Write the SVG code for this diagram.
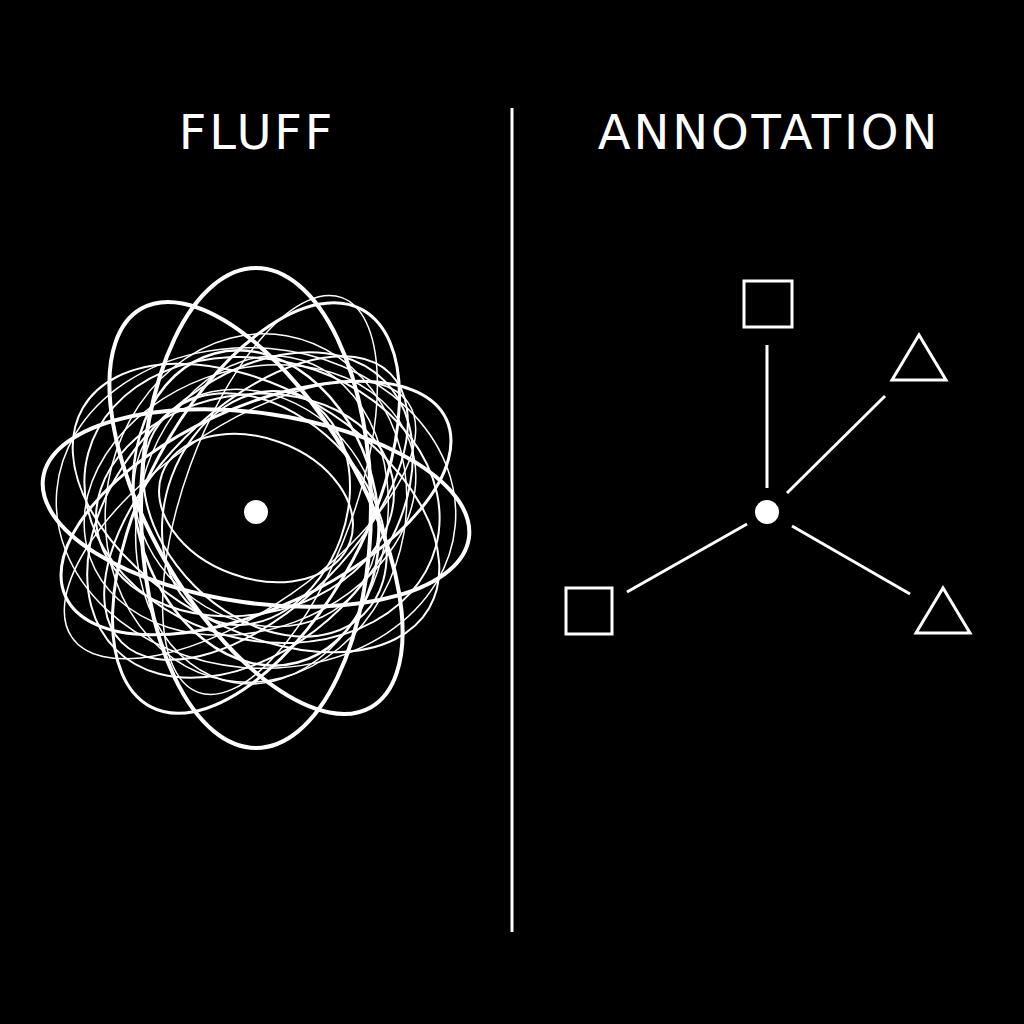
<svg xmlns="http://www.w3.org/2000/svg" width="1024" height="1024" viewBox="0 0 1024 1024">
<style>
.t{font-family:"DejaVu Sans","Liberation Sans",sans-serif;font-size:48px;letter-spacing:2.8px;fill:#fff;text-anchor:middle}
.s{fill:none;stroke:#fff;stroke-width:3}
.f{fill:none;stroke:#fff}
</style>
<rect width="1024" height="1024" fill="#000"/>
<text class="t" x="257" y="149">FLUFF</text>
<text class="t" x="769" y="149">ANNOTATION</text>
<line x1="512" y1="108" x2="512" y2="932" stroke="#fff" stroke-width="3"/>
<g id="fluff" class="f">
<ellipse cx="256" cy="508" rx="215" ry="95" transform="rotate(8 256 508)" stroke-width="4"/>
<ellipse cx="256" cy="508" rx="210" ry="100" transform="rotate(-25 256 508)" stroke-width="3"/>
<ellipse cx="256" cy="508" rx="230" ry="105" transform="rotate(60 256 508)" stroke-width="4"/>
<ellipse cx="256" cy="508" rx="225" ry="110" transform="rotate(-62 256 508)" stroke-width="3"/>
<ellipse cx="256" cy="508" rx="240" ry="115" transform="rotate(90 256 508)" stroke-width="4"/>
<ellipse cx="256" cy="508" rx="200" ry="120" transform="rotate(30 256 508)" stroke-width="2"/>
<ellipse cx="250" cy="515" rx="190" ry="130" transform="rotate(-45 250 515)" stroke-width="2"/>
<ellipse cx="262" cy="500" rx="180" ry="140" transform="rotate(15 262 500)" stroke-width="2"/>
<ellipse cx="256" cy="508" rx="160" ry="120" transform="rotate(75 256 508)" stroke-width="2.5"/>
<ellipse cx="245" cy="505" rx="150" ry="110" transform="rotate(-10 245 505)" stroke-width="2"/>
<ellipse cx="265" cy="515" rx="140" ry="100" transform="rotate(45 265 515)" stroke-width="2"/>
<ellipse cx="256" cy="508" rx="120" ry="90" transform="rotate(-70 256 508)" stroke-width="2"/>
<ellipse cx="256" cy="508" rx="200" ry="160" transform="rotate(5 256 508)" stroke-width="1.5"/>
<ellipse cx="256" cy="508" rx="175" ry="150" transform="rotate(-80 256 508)" stroke-width="1.5"/>
<ellipse cx="256" cy="508" rx="100" ry="70" transform="rotate(20 256 508)" stroke-width="2"/>
<ellipse cx="240" cy="520" rx="205" ry="90" transform="rotate(-35 240 520)" stroke-width="1.5"/>
<ellipse cx="270" cy="495" rx="210" ry="85" transform="rotate(110 270 495)" stroke-width="1.5"/>
<ellipse cx="256" cy="508" rx="190" ry="100" transform="rotate(135 256 508)" stroke-width="2"/>
<ellipse cx="250" cy="500" rx="170" ry="130" transform="rotate(-20 250 500)" stroke-width="1.5"/>
<ellipse cx="262" cy="520" rx="165" ry="125" transform="rotate(100 262 520)" stroke-width="1.5"/>
<ellipse cx="256" cy="508" rx="130" ry="110" transform="rotate(40 256 508)" stroke-width="1.5"/>
<circle cx="256" cy="512" r="12" fill="#fff" stroke="none"/>
</g>
<g id="connectors" stroke="#fff" stroke-width="3">
<line x1="767" y1="345" x2="767" y2="488"/>
<line x1="885" y1="396" x2="787" y2="493"/>
<line x1="627" y1="592" x2="747" y2="524"/>
<line x1="792" y1="526" x2="910" y2="594"/>
</g>
<g id="center"><circle cx="767" cy="512" r="12" fill="#fff"/></g>
<g id="sq-top"><rect class="s" x="744" y="281" width="48" height="46"/></g>
<g id="tri-top"><polygon class="s" points="892,380 946,380 919,335"/></g>
<g id="sq-left"><rect class="s" x="566" y="588" width="46" height="46"/></g>
<g id="tri-bottom"><polygon class="s" points="916,633 970,633 943,588"/></g>
</svg>
